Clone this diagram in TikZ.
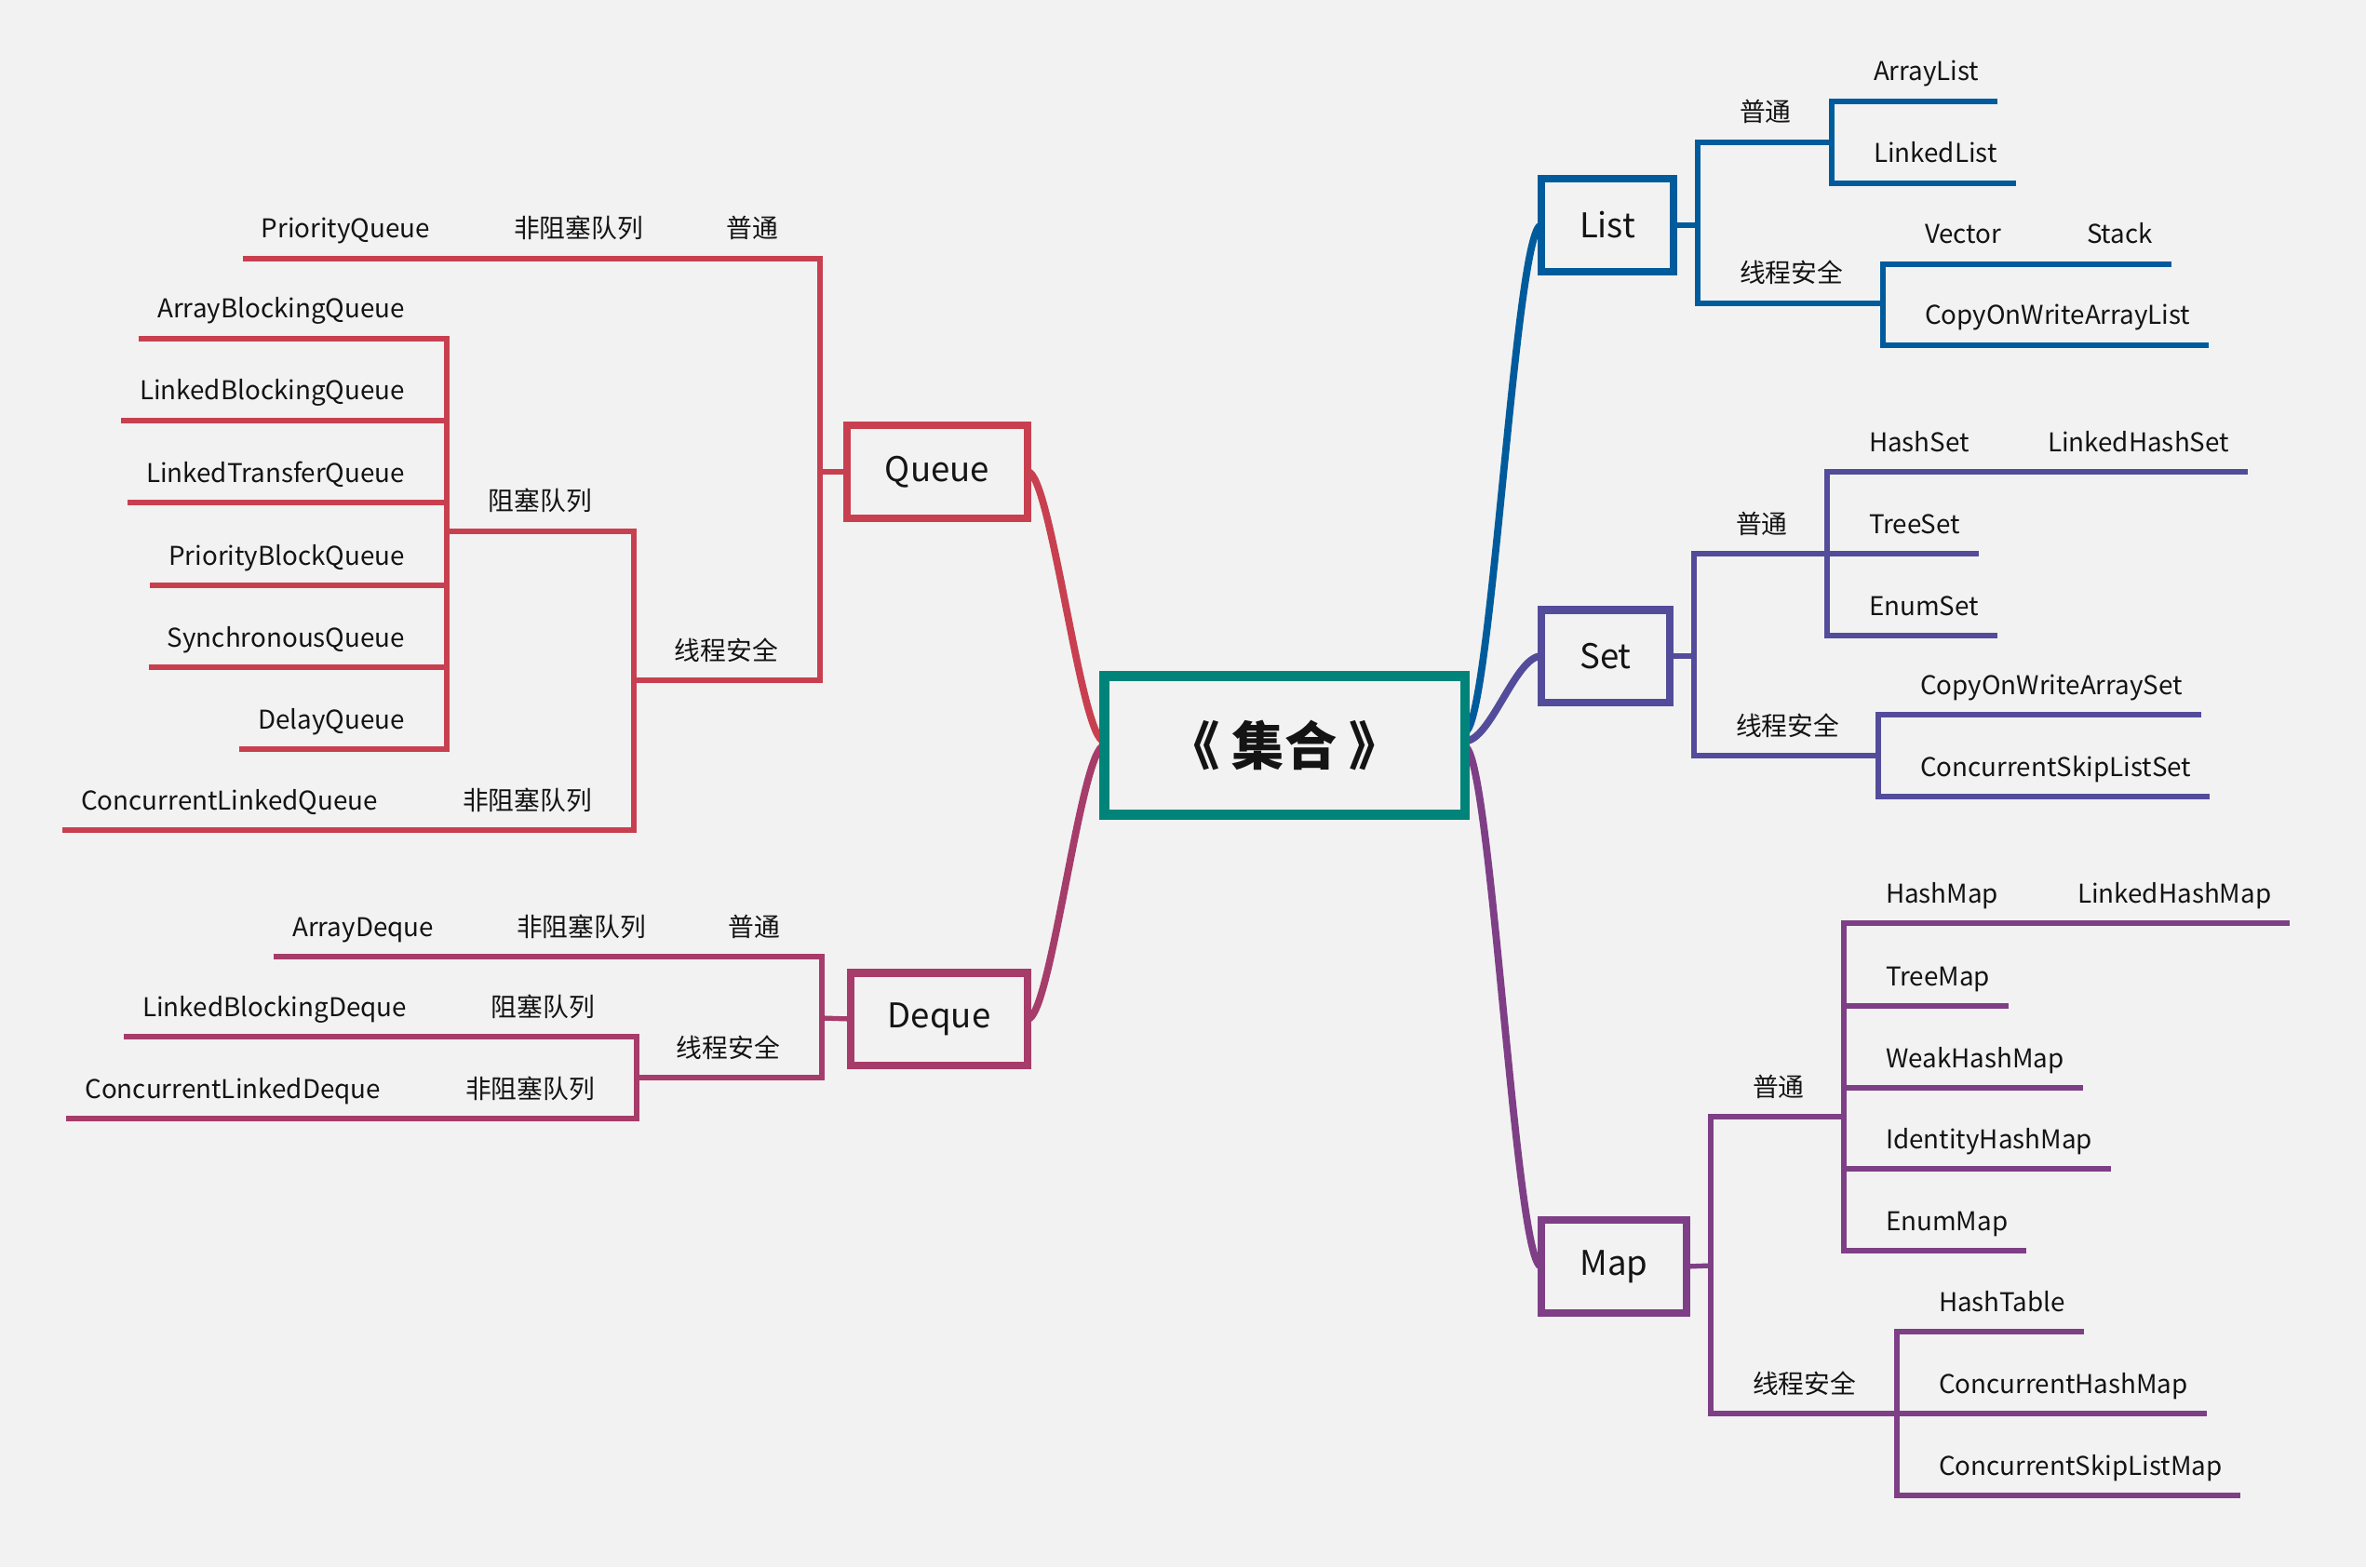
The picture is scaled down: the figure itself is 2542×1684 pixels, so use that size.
\documentclass[tikz,border=0pt]{standalone}
\usepackage{fontspec}
\setmainfont{Noto Sans CJK SC}
\usetikzlibrary{calc}

\definecolor{bgc}{RGB}{242,242,242}
\definecolor{rootc}{RGB}{0,132,122}
\definecolor{qcol}{RGB}{200,64,80}
\definecolor{dcol}{RGB}{166,60,106}
\definecolor{lcol}{RGB}{0,91,156}
\definecolor{scol}{RGB}{83,76,154}
\definecolor{mcol}{RGB}{126,63,134}
\definecolor{ink}{RGB}{20,20,20}

\tikzset{
  topic/.style={draw=#1, line width=2.3pt, fill=bgc, inner sep=0pt, outer sep=0pt,
    text=ink, font=\fontsize{10.4}{12}\selectfont},
  leaf/.style={inner xsep=0.2cm, inner ysep=0pt, outer sep=0pt, text depth=0.22cm,
    text=ink, font=\fontsize{7.9}{9}\selectfont},
  leafl/.style={leaf, anchor=south east},
  leafr/.style={leaf, anchor=south west},
  br/.style={draw=#1, line width=1.5pt},
  cv/.style={draw=#1, line width=2.2pt}
}

\begin{document}
\begin{tikzpicture}[x=0.01cm, y=-0.01cm]
        \fill [bgc] (0,0) rectangle (2542,1684);

        % central topic and main topics
        \node [topic=rootc, line width=2.9pt, minimum width=3.87cm, minimum height=1.49cm,
          font=\fontsize{16}{18}\selectfont\bfseries] (root) at (1380,801) {};
        \node [topic=qcol, minimum width=1.94cm, minimum height=1cm] (queue) at (1007,507) {};
        \node [topic=dcol, minimum width=1.90cm, minimum height=0.99cm] (deque) at (1009,1095) {};
        \node [topic=lcol, minimum width=1.42cm, minimum height=1cm] (list) at (1727,242) {};
        \node [topic=scol, minimum width=1.38cm, minimum height=0.99cm] (set) at (1725,705) {};
        \node [topic=mcol, minimum width=1.56cm, minimum height=1cm] (map) at (1734,1361) {};

        \draw [cv=qcol] (queue.east) .. controls +(25,0) and +(-25,0) .. ([yshift=0.045cm]root.west);
        \draw [cv=dcol] (deque.east) .. controls +(25,0) and +(-25,0) .. ([yshift=-0.005cm]root.west);
        \draw [cv=lcol] ([yshift=0.145cm]root.east) .. controls +(28,0) and +(-28,0) .. (list.west);
        \draw [cv=scol] ([yshift=0.045cm]root.east) .. controls +(28,0) and +(-28,0) .. (set.west);
        \draw [cv=mcol] ([yshift=-0.015cm]root.east) .. controls +(28,0) and +(-28,0) .. (map.west);

        \node [topic=rootc, line width=2.9pt, minimum width=3.87cm, minimum height=1.49cm,
          font=\fontsize{16}{18}\selectfont\bfseries] at (root) {《 集合 》};
        \node [topic=qcol, minimum width=1.94cm, minimum height=1cm] at (queue) {Queue};
        \node [topic=dcol, minimum width=1.90cm, minimum height=0.99cm] at (deque) {Deque};
        \node [topic=lcol, minimum width=1.42cm, minimum height=1cm] at (list) {List};
        \node [topic=scol, minimum width=1.38cm, minimum height=0.99cm] at (set) {Set};
        \node [topic=mcol, minimum width=1.56cm, minimum height=1cm] at (map) {Map};

        % Queue
        \coordinate (qj) at (881,507);
        \coordinate (qj2) at (681,731);
        \coordinate (qj3) at (480,571);
        \node [leafl] (qpt) at (856,278) {普通};
        \node [leafl] (qfz) at (711,278) {非阻塞队列};
        \node [leafl] (pq) at (482,278) {PriorityQueue};
        \node [leafl] (qaq) at (856,731) {线程安全};
        \node [leafl] (qzs) at (656,571) {阻塞队列};
        \node [leafl] (abq) at (455,364) {ArrayBlockingQueue};
        \node [leafl] (lbq) at (455,452) {LinkedBlockingQueue};
        \node [leafl] (ltq) at (455,540) {LinkedTransferQueue};
        \node [leafl] (pbq) at (455,629) {PriorityBlockQueue};
        \node [leafl] (syq) at (455,717) {SynchronousQueue};
        \node [leafl] (dlq) at (455,805) {DelayQueue};
        \node [leafl] (qfz2) at (656,892) {非阻塞队列};
        \node [leafl] (clq) at (426,892) {ConcurrentLinkedQueue};
        \draw [br=qcol] (queue.west) -- (qj);
        \draw [br=qcol] (qj) |- (pq.south west);
        \draw [br=qcol] (qj) |- (qj2) |- (clq.south west);
        \draw [br=qcol] (qj2) |- (qj3);
        \foreach \n in {abq,lbq,ltq,pbq,syq,dlq}
          \draw [br=qcol] (qj3) |- (\n.south west);

        % Deque
        \coordinate (dj) at (883,1094);
        \coordinate (dj2) at (684,1158);
        \node [leafl] (dpt) at (858,1028) {普通};
        \node [leafl] (dfz) at (714,1028) {非阻塞队列};
        \node [leafl] (ad) at (486,1028) {ArrayDeque};
        \node [leafl] (daq) at (858,1158) {线程安全};
        \node [leafl] (dzs) at (659,1114) {阻塞队列};
        \node [leafl] (lbd) at (457,1114) {LinkedBlockingDeque};
        \node [leafl] (dfz2) at (659,1202) {非阻塞队列};
        \node [leafl] (cld) at (429,1202) {ConcurrentLinkedDeque};
        \draw [br=dcol] (deque.west) -- (dj);
        \draw [br=dcol] (dj) |- (ad.south west);
        \draw [br=dcol] (dj) |- (dj2) |- (lbd.south west);
        \draw [br=dcol] (dj2) |- (cld.south west);

        % List
        \coordinate (lj) at (1824,242);
        \coordinate (lj1) at (1968,153);
        \coordinate (lj2) at (2023,326);
        \node [leafr] (lpt) at (1849,153) {普通};
        \node [leafr] (al) at (1993,109) {ArrayList};
        \node [leafr] (ll) at (1993,197) {LinkedList};
        \node [leafr] (laq) at (1849,326) {线程安全};
        \node [leafr] (vec) at (2048,284) {Vector};
        \node [leafr] (stk) at (2222,284) {Stack};
        \node [leafr] (cowal) at (2048,371) {CopyOnWriteArrayList};
        \draw [br=lcol] (list.east) -- (lj);
        \draw [br=lcol] (lj) |- (lj1) |- (al.south east);
        \draw [br=lcol] (lj1) |- (ll.south east);
        \draw [br=lcol] (lj) |- (lj2) |- (stk.south east);
        \draw [br=lcol] (lj2) |- (cowal.south east);

        % Set
        \coordinate (sj) at (1820,705);
        \coordinate (sj1) at (1963,595);
        \coordinate (sj2) at (2018,812);
        \node [leafr] (spt) at (1845,595) {普通};
        \node [leafr] (hs) at (1988,507) {HashSet};
        \node [leafr] (lhs) at (2180,507) {LinkedHashSet};
        \node [leafr] (ts) at (1988,595) {TreeSet};
        \node [leafr] (es) at (1988,683) {EnumSet};
        \node [leafr] (saq) at (1845,812) {线程安全};
        \node [leafr] (cowas) at (2043,768) {CopyOnWriteArraySet};
        \node [leafr] (csls) at (2043,856) {ConcurrentSkipListSet};
        \draw [br=scol] (set.east) -- (sj);
        \draw [br=scol] (sj) |- (sj1) |- (lhs.south east);
        \draw [br=scol] (sj1) -- (ts.south east);
        \draw [br=scol] (sj1) |- (es.south east);
        \draw [br=scol] (sj) |- (sj2) |- (cowas.south east);
        \draw [br=scol] (sj2) |- (csls.south east);

        % Map
        \coordinate (mj) at (1838,1360);
        \coordinate (mj1) at (1981,1200);
        \coordinate (mj2) at (2038,1519);
        \node [leafr] (mpt) at (1863,1200) {普通};
        \node [leafr] (hm) at (2006,992) {HashMap};
        \node [leafr] (lhm) at (2212,992) {LinkedHashMap};
        \node [leafr] (tm) at (2006,1081) {TreeMap};
        \node [leafr] (whm) at (2006,1169) {WeakHashMap};
        \node [leafr] (ihm) at (2006,1256) {IdentityHashMap};
        \node [leafr] (em) at (2006,1344) {EnumMap};
        \node [leafr] (maq) at (1863,1519) {线程安全};
        \node [leafr] (ht) at (2063,1431) {HashTable};
        \node [leafr] (chm) at (2063,1519) {ConcurrentHashMap};
        \node [leafr] (cslm) at (2063,1607) {ConcurrentSkipListMap};
        \draw [br=mcol] (map.east) -- (mj);
        \draw [br=mcol] (mj) |- (mj1) |- (lhm.south east);
        \foreach \n in {tm,whm,ihm,em}
          \draw [br=mcol] (mj1) |- (\n.south east);
        \draw [br=mcol] (mj) |- (mj2) |- (ht.south east);
        \draw [br=mcol] (mj2) -- (chm.south east);
        \draw [br=mcol] (mj2) |- (cslm.south east);
\end{tikzpicture}
\end{document}
